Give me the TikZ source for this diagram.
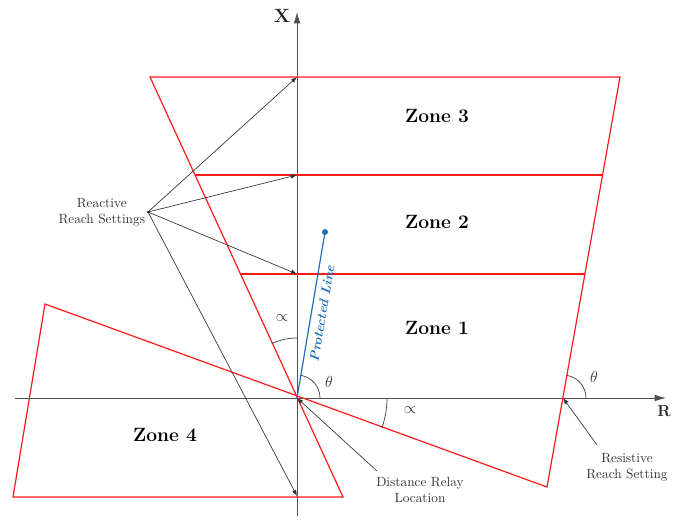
\documentclass[tikz,border=0pt]{standalone}
\usepackage{tikz}
\usetikzlibrary{positioning,arrows.meta,calc}
\definecolor{zred}{HTML}{FF1A1A}
\definecolor{zblue}{HTML}{1F6FC0}
\definecolor{zaxis}{HTML}{505050}
\tikzset{
  zone/.style={draw=zred,line width=0.9pt,line join=miter},
  axis/.style={draw=zaxis,line width=0.7pt,-{Latex[length=3mm,width=1.8mm]}},
  ptr/.style={draw=black!80,line width=0.5pt,-{Latex[length=1.6mm,width=1.2mm]}},
  ang/.style={draw=black!80,line width=0.5pt},
  zlabel/.style={font=\Large\bfseries},
  note/.style={font=\normalsize,align=center,text=black!80,inner sep=1pt},
  sym/.style={font=\large,text=black!80,inner sep=0pt},
}
\begin{document}
\begin{tikzpicture}[x=0.75pt,y=-0.75pt]
  \useasboundingbox (0,0) rectangle (675,519);
  % corner points
  \coordinate (O) at (297,398);
  \coordinate (tl) at (150,77);
  \coordinate (tr) at (620,77);
  \coordinate (br) at (547,487);
  \coordinate (ul) at (45,304);
  \coordinate (ll) at (13,497);
  \coordinate (lr) at (343,497);
  \coordinate (z2l) at (195,175);
  \coordinate (z2r) at (602,175);
  \coordinate (z1l) at (240,274);
  \coordinate (z1r) at (585,274);
  \coordinate (res) at (563,398);
  % axes
  \coordinate (xb) at (297,516);
  \coordinate (xt) at (297,12);
  \coordinate (rl) at (15,398);
  \coordinate (rr) at (666,398);
  \draw[axis] (xb) -- (xt);
  \draw[axis] (rl) -- (rr);
  \node[font=\Large\bfseries,text=black!85] (xlab) at (282,16) {X};
  \node[font=\large\bfseries,text=black!85] (rlab) at (664,411) {R};
  % zones
  \draw[zone] (tl) -- (tr) -- (br) -- (ul) -- (ll) -- (lr) -- cycle;
  \draw[zone] (z2l) -- (z2r);
  \draw[zone] (z1l) -- (z1r);
  \node[zlabel] (zn3) at (437,116) {Zone 3};
  \node[zlabel] (zn2) at (437,222) {Zone 2};
  \node[zlabel] (zn1) at (437,328) {Zone 1};
  \node[zlabel] (zn4) at (165,435) {Zone 4};
  % protected line
  \coordinate (pl) at (325,232);
  \draw[zblue,line width=0.9pt] (O) -- (pl)
    node[pos=0.52,sloped,below,font=\normalsize\bfseries\itshape,text=zblue,inner sep=4pt] {Protected Line};
  \fill[zblue] (pl) circle (3);
  % reactive reach settings
  \coordinate (src) at (148,212);
  \node[note,left=1pt of src] (react) {Reactive\\Reach Settings};
  \coordinate (a3) at (297,77);
  \coordinate (a2) at (297,175);
  \coordinate (a1) at (297,274);
  \coordinate (a4) at (297,496);
  \foreach \t in {a3,a2,a1,a4} \draw[ptr] (src) -- (\t);
  \fill (src) circle (1);
  % angles
  \draw[ang] ($(O)+(23,0)$) arc[start angle=0,end angle=-80.4,radius=23];
  \node[sym] (th1) at (329,382) {$\theta$};
  \draw[ang] ($(O)+(0,-60)$) arc[start angle=-90,end angle=-114.6,radius=60];
  \node[sym] (al1) at (282,318) {$\propto$};
  \draw[ang] ($(O)+(90,0)$) arc[start angle=0,end angle=19.6,radius=90];
  \node[sym] (al2) at (410,410) {$\propto$};
  \draw[ang] ($(res)+(23,0)$) arc[start angle=0,end angle=-79.9,radius=23];
  \node[sym] (th2) at (594,377) {$\theta$};
  % relay and resistive reach
  \coordinate (drl) at (377,471);
  \node[note,anchor=north] (relay) at (420,476) {Distance Relay\\Location};
  \draw[ptr] (drl) -- (O);
  \coordinate (rsl) at (597,445);
  \node[note,anchor=north] (resist) at (627,452) {Resistive\\Reach Setting};
  \draw[ptr] (rsl) -- (res);
\end{tikzpicture}
\end{document}
